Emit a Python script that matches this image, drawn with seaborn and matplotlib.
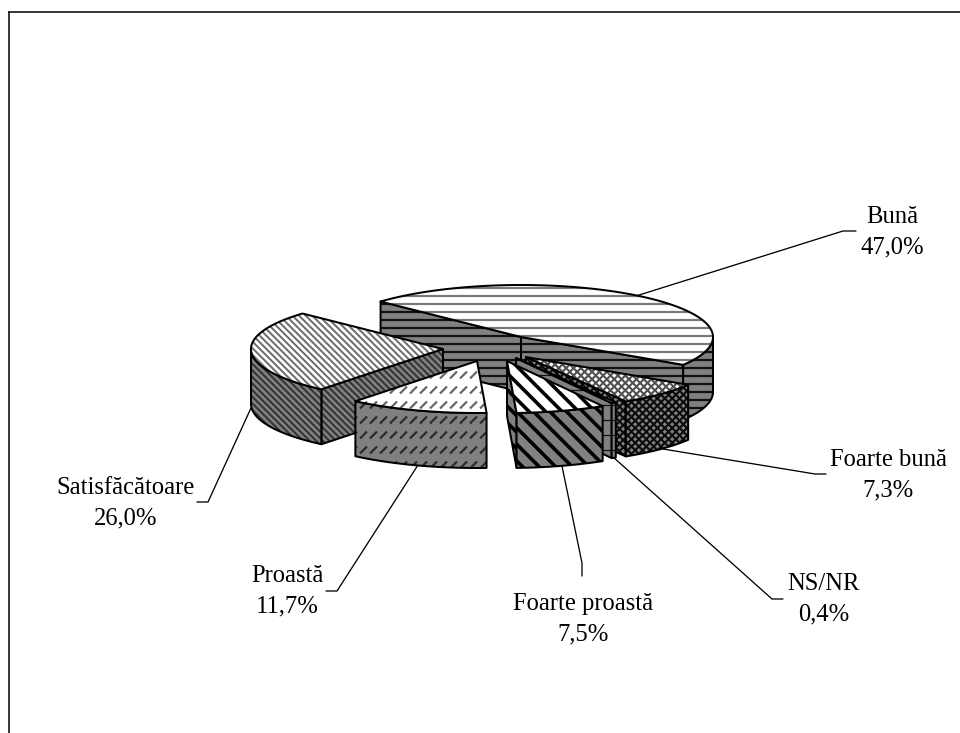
import numpy as np
import matplotlib
matplotlib.use("Agg")
import matplotlib.pyplot as plt
from matplotlib.collections import LineCollection
from matplotlib.patches import Polygon
import seaborn as sns

# ---- data -------------------------------------------------------------
categories = ["Bună", "Foarte bună", "NS/NR", "Foarte proastă", "Proastă", "Satisfăcătoare"]
values = [47.0, 7.3, 0.4, 7.5, 11.7, 26.0]

# ---- layout (pixel space of the figure) -------------------------------
start_angle = 137.0
rx, ry, depth = 192.0, 52.0, 55.0
apex_x = [521, 526, 516, 507, 477, 443]
apex_y = [337, 357, 358, 361, 361, 349]
label_x = [892, 888, 824, 583, 287, 126]
label_y = [232, 475, 599, 619, 591, 503]
leader_x = [[636, 843, 856], [663, 815, 826], [613, 772, 783],
            [562, 582, 582], [418, 337, 326], [251, 208, 197]]
leader_y = [[296, 231, 231], [449, 474, 474], [457, 599, 599],
            [466, 563, 576], [465, 591, 591], [408, 502, 502]]
draw_order = [0, 5, 4, 1, 2, 3]

GREY = "#808080"
# kind, spacing, line width(px), top colour, side colour
styles = [
    ("h", 8.0, 2.2, "#7a7a7a", "#111111"),
    ("x", 7.4, 2.1, "#505050", "#0a0a0a"),
    ("h", 15.0, 1.2, "#808080", "#111111"),
    ("d", 16.5, 3.6, "#000000", "#000000"),
    ("s", 10.0, 2.2, "#666666", "#2a2a2a"),
    ("d", 6.6, 2.0, "#6e6e6e", "#333333"),
]

# ---- figure -----------------------------------------------------------
sns.set_theme(style="white")
plt.rcParams["font.family"] = ["Liberation Serif", "DejaVu Serif"]
fig = plt.figure(figsize=(9.6, 7.33), dpi=100, facecolor="white")
ax = fig.add_axes([9 / 960, 0, 951 / 960, 721 / 733])
ax.set_xlim(9, 960)
ax.set_ylim(733, 12)
ax.set_xticks([])
ax.set_yticks([])
sns.despine(ax=ax, top=False, left=False, right=True, bottom=True)
for side in ("top", "left"):
    ax.spines[side].set_linewidth(1.1)
    ax.spines[side].set_color("black")


def px(v):
    return v * 0.72


def pattern(poly, kind, spacing, lw, color, z):
    x0, y0 = poly.min(axis=0)
    x1, y1 = poly.max(axis=0)
    h = y1 - y0
    segs = []
    if kind == "h":
        for y in np.arange(np.floor(y0 / spacing) * spacing, y1 + spacing, spacing):
            segs.append([(x0, y), (x1, y)])
    elif kind == "d":
        for x in np.arange(np.floor((x0 - h) / spacing) * spacing, x1 + spacing, spacing):
            segs.append([(x, y0), (x + h, y1)])
    elif kind == "x":
        for x in np.arange(np.floor((x0 - h) / spacing) * spacing, x1 + spacing, spacing):
            segs.append([(x, y0), (x + h, y1)])
            segs.append([(x + h, y0), (x, y1)])
    elif kind == "s":
        row = 15.0
        for y in np.arange(np.floor(y0 / row) * row, y1 + row, row):
            for x in np.arange(np.floor(x0 / spacing) * spacing, x1 + spacing, spacing):
                segs.append([(x, y + 3.5), (x + 7, y - 3.5)])
    clip = Polygon(poly, closed=True, transform=ax.transData)
    lc = LineCollection(segs, colors=color, linewidths=px(lw), zorder=z, capstyle="butt")
    ax.add_collection(lc)
    lc.set_clip_path(clip)


def face(poly, fill, style, color, z):
    kind, spacing, lw = style
    poly = np.asarray(poly)
    ax.add_patch(Polygon(poly, closed=True, fc=fill, ec="none", zorder=z))
    pattern(poly, kind, spacing, lw, color, z + 0.1)
    ax.add_patch(Polygon(poly, closed=True, fill=False, ec="black", lw=px(2.0),
                         joinstyle="round", zorder=z + 0.2))


total = sum(values)
sweeps = [360.0 * v / total for v in values]
ends = start_angle - np.cumsum(sweeps)
starts = ends + np.array(sweeps)

z = 2.0
for i in draw_order:
    cx, cy = apex_x[i], apex_y[i]
    kind, spacing, lw, top_c, side_c = styles[i]
    st = (kind, spacing, lw)
    a0, a1 = ends[i], starts[i]  # counter-clockwise from a0 to a1


    def pt(a):
        r = np.radians(a)
        return cx + rx * np.cos(r), cy - ry * np.sin(r)

    # cut faces that look towards the viewer
    for ang, normal in ((a0, a0 - 90), (a1, a1 + 90)):
        if np.sin(np.radians(normal)) < 0:
            px_, py_ = pt(ang)
            face([(cx, cy), (px_, py_), (px_, py_ + depth), (cx, cy + depth)],
                 GREY, st, side_c, z)
            z += 1

    # outer rim: only the front half of the ellipse is visible
    arc = np.linspace(a0, a1, 160)
    visible = arc[np.sin(np.radians(arc)) <= 0]
    if len(visible) > 1:
        up = np.array([pt(a) for a in visible])
        down = up[::-1] + np.array([0, depth])
        face(np.vstack([up, down]), GREY, st, side_c, z)
        z += 1

    # top surface
    rim = np.array([pt(a) for a in arc])
    face(np.vstack([[(cx, cy)], rim]), "white", st, top_c, z)
    z += 1

# labels and leader lines
for i, cat in enumerate(categories):
    ax.plot(leader_x[i], leader_y[i], color="black", lw=px(1.3), zorder=1, solid_joinstyle="miter")
    text = f"{cat}\n{values[i]:.1f}%".replace(".", ",")
    ax.text(label_x[i], label_y[i], text, ha="center", va="center", ma="center",
            fontsize=17.7, color="black", linespacing=1.5, zorder=60)

fig.savefig("out.png", dpi=100, facecolor="white")
